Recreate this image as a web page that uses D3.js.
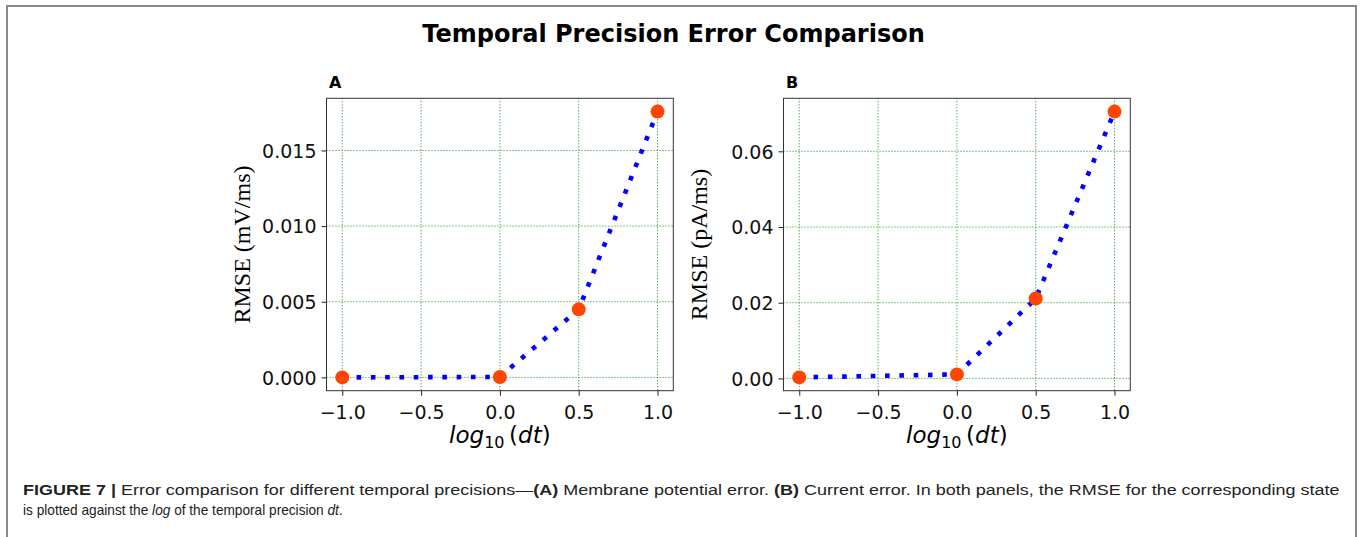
<!DOCTYPE html>
<html>
<head>
<meta charset="utf-8">
<script src="https://cdn.jsdelivr.net/npm/d3@7"></script>
<style>
  html, body { margin: 0; padding: 0; background: #fff; }
  svg { display: block; }
</style>
</head>
<body>
<svg id="chart" width="1360" height="537"></svg>
<script>
// ---- data ----
const xLogDt = [-1.0, 0.0, 0.5, 1.0];
const rmseVoltage = [0.00000, 0.00003, 0.00450, 0.01757];   // panel A, mV/ms
const rmseCurrent = [0.00026, 0.00106, 0.02110, 0.07050];   // panel B, pA/ms
const xTickValues = [-1.0, -0.5, 0.0, 0.5, 1.0];
const yTicksA = [0.000, 0.005, 0.010, 0.015];
const yTicksB = [0.00, 0.02, 0.04, 0.06];
const panelLetters = ["A", "B"];
const yLabels = ["RMSE (mV/ms)", "RMSE (pA/ms)"];
const titleText = "Temporal Precision Error Comparison";

const svg = d3.select("#chart");

// outer frame
svg.append("rect").attr("x", 7).attr("y", 6).attr("width", 1349).attr("height", 540)
  .attr("fill", "none").attr("stroke", "#8a8a8a").attr("stroke-width", 2);

// title
svg.append("text").attr("x", 673.5).attr("y", 42)
  .attr("text-anchor", "middle")
  .style("font-family", "DejaVu Sans").style("font-weight", "bold").style("font-size", "24px")
  .text(titleText);

const panels = [
  { left: 326.5, ys: rmseVoltage, ticks: yTicksA, fmt: d3.format(".3f"), letter: panelLetters[0], ylab: yLabels[0] },
  { left: 783.5, ys: rmseCurrent, ticks: yTicksB, fmt: d3.format(".2f"), letter: panelLetters[1], ylab: yLabels[1] }
];
const pw = 346.8, plotTop = 98.3, ph = 292.4;

panels.forEach(p => {
  const g = svg.append("g").attr("transform", `translate(${p.left},${plotTop})`);
  const x = d3.scaleLinear().domain([-1.1, 1.1]).range([0, pw]);
  const ext = d3.extent(p.ys);
  const m = (ext[1] - ext[0]) * 0.05;
  const y = d3.scaleLinear().domain([ext[0] - m, ext[1] + m]).range([ph, 0]);

  // grid
  g.append("g").selectAll("line").data(xTickValues).join("line")
    .attr("x1", d => x(d)).attr("x2", d => x(d)).attr("y1", 0).attr("y2", ph)
    .attr("stroke", "#138a13").attr("stroke-width", 1).attr("stroke-dasharray", "1,2");
  g.append("g").selectAll("line").data(p.ticks).join("line")
    .attr("y1", d => y(d)).attr("y2", d => y(d)).attr("x1", 0).attr("x2", pw)
    .attr("stroke", "#138a13").attr("stroke-width", 1).attr("stroke-dasharray", "1,2");

  // axes
  const xa = g.append("g").attr("transform", `translate(0,${ph})`)
    .call(d3.axisBottom(x).tickValues(xTickValues).tickFormat(d3.format(".1f")).tickSize(5).tickPadding(5));
  const ya = g.append("g")
    .call(d3.axisLeft(y).tickValues(p.ticks).tickFormat(p.fmt).tickSize(5).tickPadding(5));
  [xa, ya].forEach(a => {
    a.select(".domain").remove();
    a.selectAll("line").attr("stroke", "#222");
    a.selectAll("text").style("font-family", "DejaVu Sans").style("font-size", "19px").attr("fill", "#111");
  });
  xa.selectAll("text").attr("dy", "0.95em");
  ya.selectAll("text").attr("dy", "0.36em");

  // frame
  g.append("rect").attr("width", pw).attr("height", ph)
    .attr("fill", "none").attr("stroke", "#333").attr("stroke-width", 1);

  // line
  const pts = xLogDt.map((d, i) => [d, p.ys[i]]);
  g.append("path").datum(pts)
    .attr("d", d3.line().x(d => x(d[0])).y(d => y(d[1])))
    .attr("fill", "none").attr("stroke", "#0000ff").attr("stroke-width", 4.6)
    .attr("stroke-dasharray", "4.6,9.7");

  // markers
  g.append("g").selectAll("circle").data(pts).join("circle")
    .attr("cx", d => x(d[0])).attr("cy", d => y(d[1])).attr("r", 7)
    .attr("fill", "#ff4500");

  // panel letter
  g.append("text").attr("x", 2.5).attr("y", -10)
    .style("font-family", "DejaVu Sans").style("font-weight", "bold").style("font-size", "16px")
    .text(p.letter);

  // y label
  g.append("text").attr("transform", `translate(${-85},${ph / 2}) rotate(-90)`)
    .attr("text-anchor", "middle").attr("dominant-baseline", "central")
    .style("font-family", "Liberation Serif").style("font-size", "24px")
    .text(p.ylab);

  // x label: log_10 (dt)
  const xl = g.append("text").attr("x", pw / 2).attr("y", 345).attr("text-anchor", "middle")
    .style("font-family", "DejaVu Sans").style("font-size", "23px");
  xl.append("tspan").style("font-style", "italic").text("log");
  xl.append("tspan").attr("dy", 5).style("font-size", "16px").text("10");
  xl.append("tspan").attr("dy", -5).text("\u2009(");
  xl.append("tspan").style("font-style", "italic").text("dt");
  xl.append("tspan").text(")");
});

// caption
const cap = svg.append("g").style("font-family", "Liberation Sans").style("font-size", "14.5px").attr("fill", "#222");
const l1 = cap.append("text").attr("x", 0).attr("y", 0);
l1.append("tspan").style("font-weight", "bold").text("FIGURE 7 | ");
l1.append("tspan").text("Error comparison for different temporal precisions\u2014");
l1.append("tspan").style("font-weight", "bold").text("(A)");
l1.append("tspan").text(" Membrane potential error. ");
l1.append("tspan").style("font-weight", "bold").text("(B)");
l1.append("tspan").text(" Current error. In both panels, the RMSE for the corresponding state");
const l2 = cap.append("text").attr("x", 0).attr("y", 0);
l2.append("tspan").text("is plotted against the ");
l2.append("tspan").style("font-style", "italic").text("log");
l2.append("tspan").text(" of the temporal precision ");
l2.append("tspan").style("font-style", "italic").text("dt");
l2.append("tspan").text(".");

const capLeft = 23, line1Width = 1317, line2Width = 320;
const s1 = line1Width / l1.node().getComputedTextLength();
const s2 = line2Width / l2.node().getComputedTextLength();
l1.attr("transform", `translate(${capLeft},495) scale(${s1},1)`);
l2.attr("transform", `translate(${capLeft},515) scale(${s2},1)`);
</script>
</body>
</html>
